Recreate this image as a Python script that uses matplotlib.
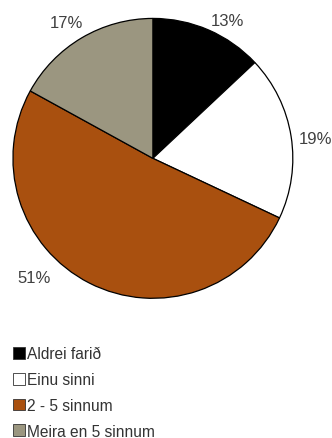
import numpy as np
import matplotlib.pyplot as plt
from matplotlib.patches import Patch

plt.rcParams['font.family'] = ['Liberation Sans', 'DejaVu Sans']

labels = ['Aldrei farið', 'Einu sinni', '2 - 5 sinnum', 'Meira en 5 sinnum']
shares = [13, 19, 51, 17]
colors = ['#000000', '#ffffff', '#a9500f', '#9b9680']
# where each percentage sits: angle nudge (deg) and distance from centre
label_shift = [-5, -2, -18, 2]
label_dist = [1.12, 1.17, 1.2, 1.15]

fig = plt.figure(figsize=(3.32, 4.39), dpi=100)
ax = fig.add_axes([0.039, 0.318, 0.843, 0.638])

wedges, _ = ax.pie(shares, colors=colors, startangle=90, counterclock=False,
                   wedgeprops=dict(edgecolor='black', linewidth=0.9))
ax.set_xlim(-1, 1)
ax.set_ylim(-1, 1)
ax.set_aspect('equal')

for w, s, shift, r in zip(wedges, shares, label_shift, label_dist):
    mid = np.deg2rad((w.theta1 + w.theta2) / 2 + shift)
    ax.text(r * np.cos(mid), r * np.sin(mid), '%d%%' % s,
            ha='center', va='center', fontsize=12, color='#404040')

handles = [Patch(facecolor=c, edgecolor='#333333', linewidth=0.6) for c in colors]
fig.legend(handles, labels, loc='upper left', bbox_to_anchor=(0.015, 0.227),
           frameon=False, fontsize=11.2, handlelength=0.8, handleheight=0.8,
           handletextpad=0.12, labelspacing=0.7, borderpad=0, labelcolor='#333333')

fig.savefig('out.png', dpi=100)
